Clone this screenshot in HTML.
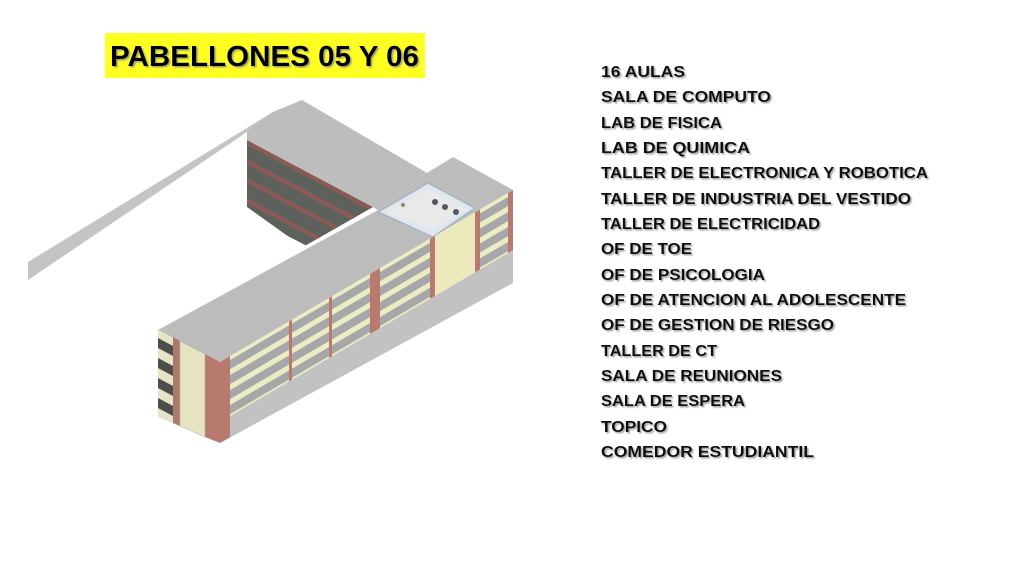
<!DOCTYPE html>
<html><head><meta charset="utf-8"><style>
html,body{margin:0;padding:0;background:#fff;}
svg{display:block;}
text{font-family:"Liberation Sans",sans-serif;font-weight:bold;}
</style></head><body>
<svg width="1024" height="571" viewBox="0 0 1024 571" xmlns="http://www.w3.org/2000/svg">
<defs>
<filter id="sh" x="-5%" y="-20%" width="110%" height="140%"><feDropShadow dx="1.5" dy="1.5" stdDeviation="0.8" flood-color="#888" flood-opacity="0.8"/></filter>
<clipPath id="cf"><polygon points="247,140 373,207 303,247 247,207"/></clipPath>
</defs>
<rect x="105" y="33" width="320" height="45" fill="#ffff22"/>
<text x="110" y="66" font-size="29" textLength="309" lengthAdjust="spacingAndGlyphs" fill="#000" filter="url(#sh)">PABELLONES 05 Y 06</text>

<g clip-path="url(#cf)">
<polygon points="247,140 373,207 373,280 247,215" fill="#5d615c"/>
<g fill="#8a5a55">
<polygon points="247,140 373,207 373,212 247,145"/>
<polygon points="247,159 373,226 373,231 247,164"/>
<polygon points="247,178 373,245 373,250 247,183"/>
<polygon points="247,198 373,265 373,270 247,203"/>
</g>
</g>
<polygon points="247,128 273,112 302,100 427,173 378,210 373,207 247,140" fill="#bdbdbd"/>
<polygon points="28,262 273,112 247,132 28,280" fill="#c4c4c4"/>
<polygon points="158,330 378,210 427,173 453,157 513,190 433,237 220,362" fill="#bcbcbc"/>
<polygon points="378,212 428,183 475,208 433,237" fill="#dfe6ee" stroke="#a9b4c0" stroke-width="1.5"/>
<polygon points="386,212 428,189 467,209 433,230" fill="#e9e9e9"/>
<circle cx="403" cy="205" r="2" fill="#9a8a5a"/>
<circle cx="435" cy="202" r="3" fill="#556"/><circle cx="445" cy="207" r="3" fill="#556"/><circle cx="456" cy="212" r="3" fill="#556"/>

<polygon points="158,330 220,362 220,443 158,417" fill="#e4e4c8"/>
<g fill="#4d4f4c">
<polygon points="158,338 173,346 173,356 158,348"/>
<polygon points="158,358 173,366 173,376 158,368"/>
<polygon points="158,378 173,386 173,396 158,388"/>
<polygon points="158,398 173,406 173,416 158,408"/>
</g>
<polygon points="173,337 180,341 180,426 173,423" fill="#b0786d"/>
<polygon points="205,354 220,362 220,443 205,437" fill="#b87a6e"/>
<polygon points="180,341 205,354 205,437 180,426" fill="#e6e4c0" stroke="#aaa" stroke-width="0.5"/>

<polygon points="220,420 513,248 513,283 220,443" fill="#c2c2c2"/>
<g transform="translate(220,362) skewY(-30.4)">
<rect x="0" y="0" width="293" height="60" fill="#ecebc3"/>
<g fill="#a5a7a8">
<rect x="0" y="4" width="293" height="9"/>
<rect x="0" y="19" width="293" height="9"/>
<rect x="0" y="34" width="293" height="9"/>
<rect x="0" y="49" width="293" height="9"/>
</g>
<rect x="213" y="0" width="43" height="60" fill="#ece9bd"/>
<g fill="#b87a6e">
<rect x="0" y="0" width="10" height="81"/>
<rect x="69" y="0" width="3" height="60"/>
<rect x="109" y="0" width="3" height="60"/>
<rect x="150" y="0" width="10" height="60"/>
<rect x="210" y="0" width="5" height="60"/>
<rect x="255" y="0" width="5" height="60"/>
<rect x="288" y="0" width="5" height="60"/>
</g>
</g>

<g font-size="16" fill="#111" filter="url(#sh)">
<text x="601" y="77" textLength="84" lengthAdjust="spacingAndGlyphs">16 AULAS</text>
<text x="601" y="102" textLength="170" lengthAdjust="spacingAndGlyphs">SALA DE COMPUTO</text>
<text x="601" y="128" textLength="121" lengthAdjust="spacingAndGlyphs">LAB DE FISICA</text>
<text x="601" y="153" textLength="149" lengthAdjust="spacingAndGlyphs">LAB DE QUIMICA</text>
<text x="601" y="178" textLength="327" lengthAdjust="spacingAndGlyphs">TALLER DE ELECTRONICA Y ROBOTICA</text>
<text x="601" y="204" textLength="310" lengthAdjust="spacingAndGlyphs">TALLER DE INDUSTRIA DEL VESTIDO</text>
<text x="601" y="229" textLength="219" lengthAdjust="spacingAndGlyphs">TALLER DE ELECTRICIDAD</text>
<text x="601" y="254" textLength="91" lengthAdjust="spacingAndGlyphs">OF DE TOE</text>
<text x="601" y="280" textLength="164" lengthAdjust="spacingAndGlyphs">OF DE PSICOLOGIA</text>
<text x="601" y="305" textLength="305" lengthAdjust="spacingAndGlyphs">OF DE ATENCION AL ADOLESCENTE</text>
<text x="601" y="330" textLength="233" lengthAdjust="spacingAndGlyphs">OF DE GESTION DE RIESGO</text>
<text x="601" y="356" textLength="116" lengthAdjust="spacingAndGlyphs">TALLER DE CT</text>
<text x="601" y="381" textLength="181" lengthAdjust="spacingAndGlyphs">SALA DE REUNIONES</text>
<text x="601" y="406" textLength="144" lengthAdjust="spacingAndGlyphs">SALA DE ESPERA</text>
<text x="601" y="432" textLength="66" lengthAdjust="spacingAndGlyphs">TOPICO</text>
<text x="601" y="457" textLength="213" lengthAdjust="spacingAndGlyphs">COMEDOR ESTUDIANTIL</text>
</g>
</svg>
</body></html>
